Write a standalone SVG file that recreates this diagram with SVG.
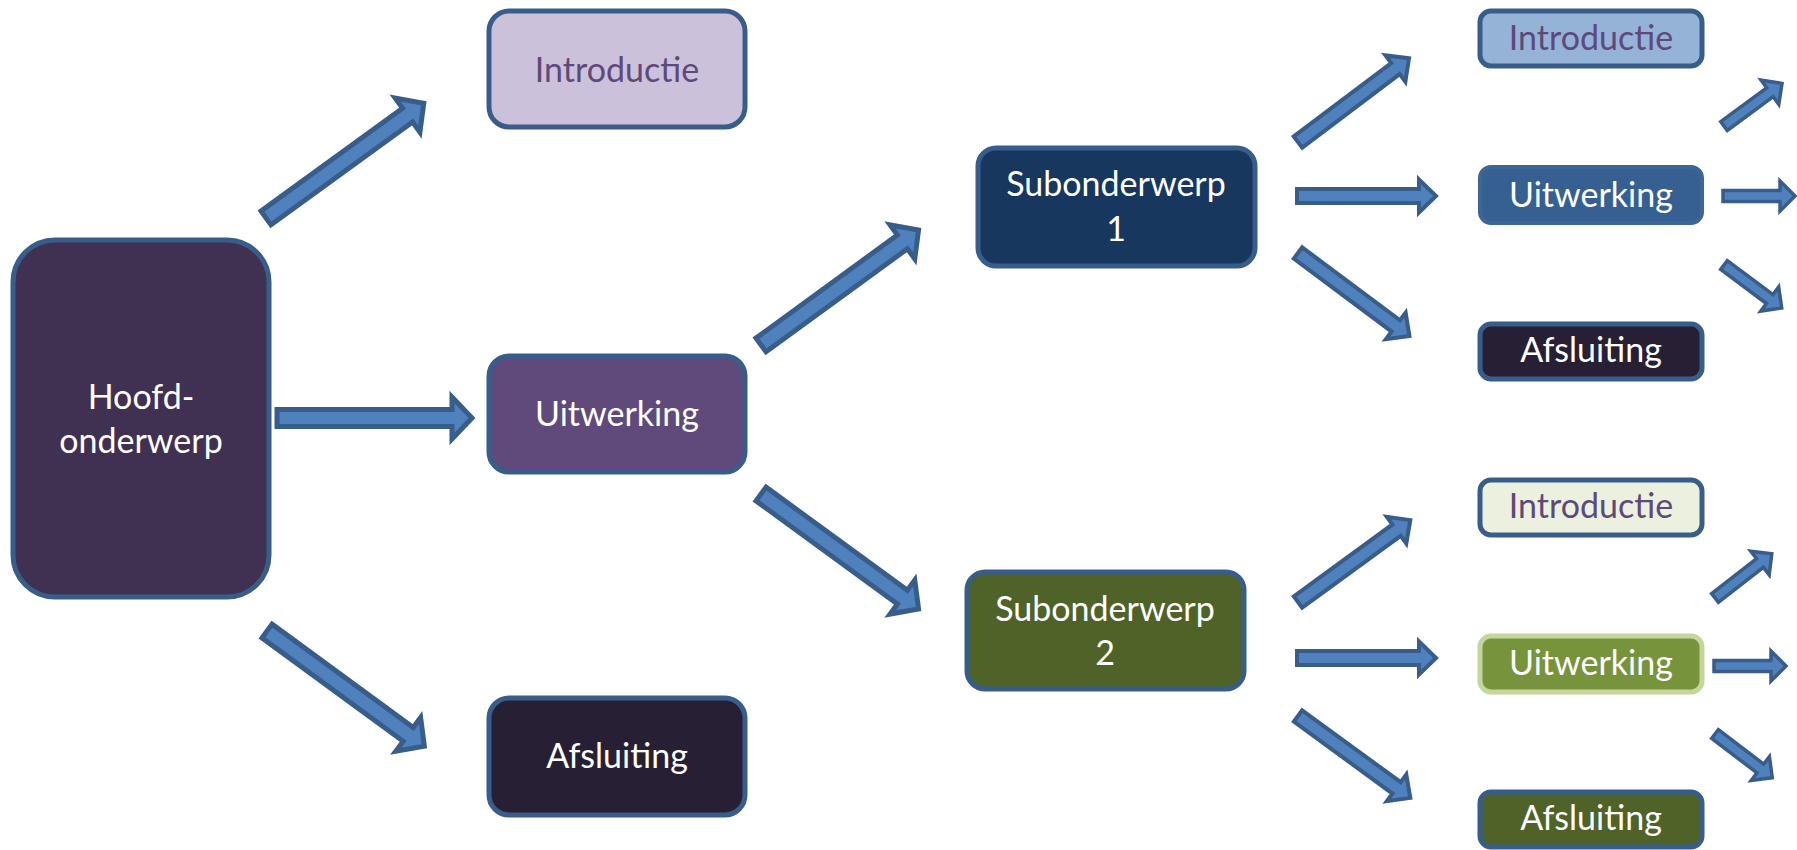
<svg xmlns="http://www.w3.org/2000/svg" xmlns:xlink="http://www.w3.org/1999/xlink" width="1797" height="850" viewBox="0 0 1797 850">
<style>
.node{stroke:#385d8a;stroke-width:5}
.t{font-family:Lato,"Open Sans","Liberation Sans",sans-serif;font-size:34px;text-anchor:middle;fill:#ffffff}
.tp{fill:#5f497a}
.arr{fill:#4f81bd;stroke:#385d8a;stroke-linejoin:miter}
.aL{stroke-width:5}
.aM{stroke-width:4}
.aS{stroke-width:3.5}
</style>
<defs>
<path id="aL" d="M0,-8.5 H175 V-21 L195,0 L175,21 V8.5 H0 Z"/>
<path id="aM" d="M0,-7 H122 V-16.5 L139,0 L122,16.5 V7 H0 Z"/>
<path id="aS" d="M0,-5.5 H57 V-15 L72,0 L57,15 V5.5 H0 Z"/>
</defs>
<rect width="1797" height="850" fill="#ffffff"/>
<g id="connectors">
<use class="arr aL" xlink:href="#aL" href="#aL" transform="translate(266,218) rotate(-36)"/>
<use class="arr aL" xlink:href="#aL" href="#aL" transform="translate(277,418)"/>
<use class="arr aL" xlink:href="#aL" href="#aL" transform="translate(267,631) rotate(36.2)"/>
<use class="arr aL" xlink:href="#aL" href="#aL" transform="translate(761,345) rotate(-36.1)"/>
<use class="arr aL" xlink:href="#aL" href="#aL" transform="translate(761,494) rotate(36.1)"/>
<use class="arr aM" xlink:href="#aM" href="#aM" transform="translate(1298,142) rotate(-37)"/>
<use class="arr aM" xlink:href="#aM" href="#aM" transform="translate(1297,196)"/>
<use class="arr aM" xlink:href="#aM" href="#aM" transform="translate(1298,253) rotate(36.7)"/>
<use class="arr aM" xlink:href="#aM" href="#aM" transform="translate(1298,602) rotate(-36.1)"/>
<use class="arr aM" xlink:href="#aM" href="#aM" transform="translate(1297,658)"/>
<use class="arr aM" xlink:href="#aM" href="#aM" transform="translate(1298,716) rotate(36.1)"/>
<use class="arr aS" xlink:href="#aS" href="#aS" transform="translate(1724,126) rotate(-36.3)"/>
<use class="arr aS" xlink:href="#aS" href="#aS" transform="translate(1723,196)"/>
<use class="arr aS" xlink:href="#aS" href="#aS" transform="translate(1724,265) rotate(36.7)"/>
<use class="arr aS" xlink:href="#aS" href="#aS" transform="translate(1715,598) rotate(-37.9)"/>
<use class="arr aS" xlink:href="#aS" href="#aS" transform="translate(1714,666)"/>
<use class="arr aS" xlink:href="#aS" href="#aS" transform="translate(1715,734) rotate(37.3)"/>
</g>
<g id="hoofdonderwerp">
<rect class="node" x="13" y="240" width="256" height="357" rx="42" fill="#403152"/>
<text class="t" x="141" y="409">Hoofd-</text>
<text class="t" x="141" y="453">onderwerp</text>
</g>
<g id="introductie1">
<rect class="node" x="489" y="11" width="256" height="116" rx="20" fill="#ccc1da"/>
<text class="t tp" x="617" y="82">Introductie</text>
</g>
<g id="uitwerking1">
<rect class="node" x="489" y="356" width="256" height="116" rx="20" fill="#604a7b"/>
<text class="t" x="617" y="426">Uitwerking</text>
</g>
<g id="afsluiting1">
<rect class="node" x="489" y="698" width="256" height="117" rx="20" fill="#272035"/>
<text class="t" x="617" y="768">Afsluiting</text>
</g>
<g id="subonderwerp1">
<rect class="node" x="978" y="148" width="277" height="118" rx="18" fill="#17375e"/>
<text class="t" x="1116" y="196">Subonderwerp</text>
<text class="t" x="1116" y="241">1</text>
</g>
<g id="subonderwerp2">
<rect class="node" x="967" y="572" width="277" height="117" rx="18" fill="#4f6228"/>
<text class="t" x="1105" y="621">Subonderwerp</text>
<text class="t" x="1105" y="665">2</text>
</g>
<g id="introductie1a">
<rect class="node" x="1480" y="11" width="222" height="55" rx="11" fill="#95b3d7"/>
<text class="t tp" x="1591" y="50">Introductie</text>
</g>
<g id="uitwerking1a">
<rect x="1480" y="167" width="222" height="56" rx="11" fill="#376092" stroke="#3d6696" stroke-width="4"/>
<text class="t" x="1591" y="207">Uitwerking</text>
</g>
<g id="afsluiting1a">
<rect class="node" x="1480" y="324" width="222" height="55" rx="11" fill="#272035"/>
<text class="t" x="1591" y="362">Afsluiting</text>
</g>
<g id="introductie2a">
<rect class="node" x="1480" y="480" width="222" height="55" rx="11" fill="#ebf1de"/>
<text class="t tp" x="1591" y="518">Introductie</text>
</g>
<g id="uitwerking2a">
<rect x="1480" y="636" width="222" height="56" rx="11" fill="#77933c" stroke="#c3d69b" stroke-width="5"/>
<text class="t" x="1591" y="675">Uitwerking</text>
</g>
<g id="afsluiting2a">
<rect class="node" x="1480" y="792" width="222" height="55" rx="11" fill="#4f6228"/>
<text class="t" x="1591" y="830">Afsluiting</text>
</g>
</svg>
